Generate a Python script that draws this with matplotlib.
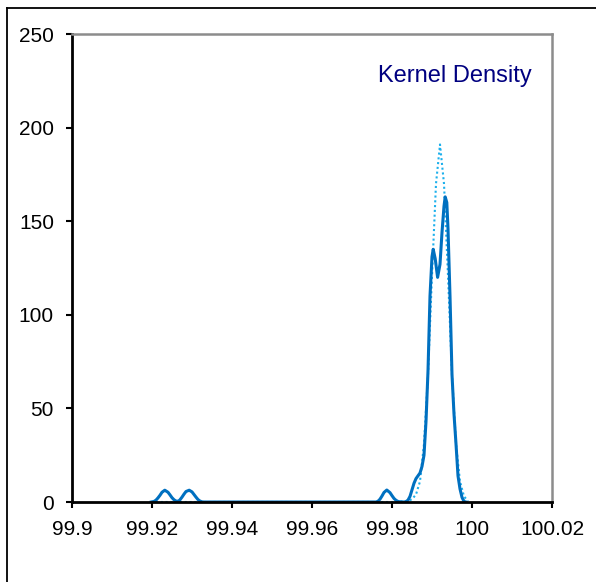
import numpy as np
import matplotlib.pyplot as plt
from matplotlib.lines import Line2D

plt.rcParams['font.family'] = ['Liberation Sans', 'DejaVu Sans']

# kernel density curve (solid)
kd_x = [99.9198, 99.9205, 99.921, 99.9215, 99.922, 99.9225, 99.9232, 99.924, 99.9245,
        99.925, 99.9255, 99.926, 99.9263, 99.9267, 99.927, 99.9275, 99.928, 99.9285,
        99.9293, 99.930, 99.9305, 99.931, 99.9315, 99.932, 99.9325, 99.933,
        99.976, 99.9765, 99.977, 99.9775, 99.978, 99.9787, 99.9795, 99.980, 99.9805,
        99.981, 99.9815, 99.982, 99.983, 99.9835, 99.984, 99.9845, 99.985, 99.9855,
        99.986, 99.9865, 99.987, 99.9875, 99.988, 99.9885, 99.989, 99.9895, 99.990,
        99.9903, 99.9908, 99.9914, 99.992, 99.9925, 99.993, 99.9933, 99.9937, 99.994,
        99.9945, 99.995, 99.9955, 99.996, 99.9965, 99.997, 99.9975, 99.998, 99.9985]
kd_y = [0, 0.3, 1.0, 2.2, 3.6, 5.2, 6.3, 5.2, 3.8,
        2.3, 1.2, 0.5, 0.4, 0.6, 1.2, 2.6, 4.2, 5.6,
        6.3, 5.4, 4.0, 2.6, 1.3, 0.5, 0.1, 0,
        0, 0.4, 1.5, 3.2, 5.1, 6.4, 5.0, 3.4, 1.9,
        0.9, 0.3, 0.1, 0, 0.2, 1.0, 3.0, 6.5, 10.0,
        12.5, 14.0, 15.5, 19, 25, 43, 70, 110, 131,
        135, 130, 120, 127, 144, 158, 163, 160, 146,
        110, 68, 47, 31, 14, 7, 2.5, 0.3, 0]

# dotted curve, values
nd_x = [99.9198, 99.980, 99.984, 99.985, 99.986, 99.987, 99.988, 99.989, 99.990,
        99.991, 99.992, 99.993, 99.994, 99.995, 99.996, 99.997, 99.998, 99.999]
nd_y = [0, 0, 0.5, 1.5, 4, 11, 31, 68, 121,
        170, 191, 170, 121, 68, 31, 11, 3, 0.5]

x_ticks = [99.9, 99.92, 99.94, 99.96, 99.98, 100, 100.02]
x_labels = ['99.9', '99.92', '99.94', '99.96', '99.98', '100', '100.02']
y_ticks = [0, 50, 100, 150, 200, 250]

fig = plt.figure(figsize=(5.96, 5.82), dpi=100)
ax = fig.add_axes([72/596, 1-502/582, 480/596, 468/582])

ax.plot(nd_x, nd_y, color='#1CB0EC', linestyle=(0, (1, 1.3)), linewidth=1.5)
ax.plot(kd_x, kd_y, color='#0070C0', linewidth=2.2)

ax.set_xlim(99.9, 100.02)
ax.set_ylim(0, 250)
ax.set_xticks(x_ticks)
ax.set_xticklabels(x_labels)
ax.set_yticks(y_ticks)
ax.tick_params(direction='out', length=4, width=1.5, labelsize=15, pad=9)

for s in ['left', 'bottom']:
    ax.spines[s].set_color('black')
    ax.spines[s].set_linewidth(2)
for s in ['top', 'right']:
    ax.spines[s].set_color('#8C8C8C')
    ax.spines[s].set_linewidth(1.8)

ax.text(0.957, 0.91, 'Kernel Density', transform=ax.transAxes, ha='right', va='center',
        fontsize=17, color='#000080')

# outer frame (cut off at right and bottom)
top = 1 - 7.5/582
left = 7/596
fig.add_artist(Line2D([left, left], [0, top], transform=fig.transFigure, color='black', lw=1.3))
fig.add_artist(Line2D([left, 1], [top, top], transform=fig.transFigure, color='black', lw=1.3))

plt.savefig('out.png', dpi=100)
